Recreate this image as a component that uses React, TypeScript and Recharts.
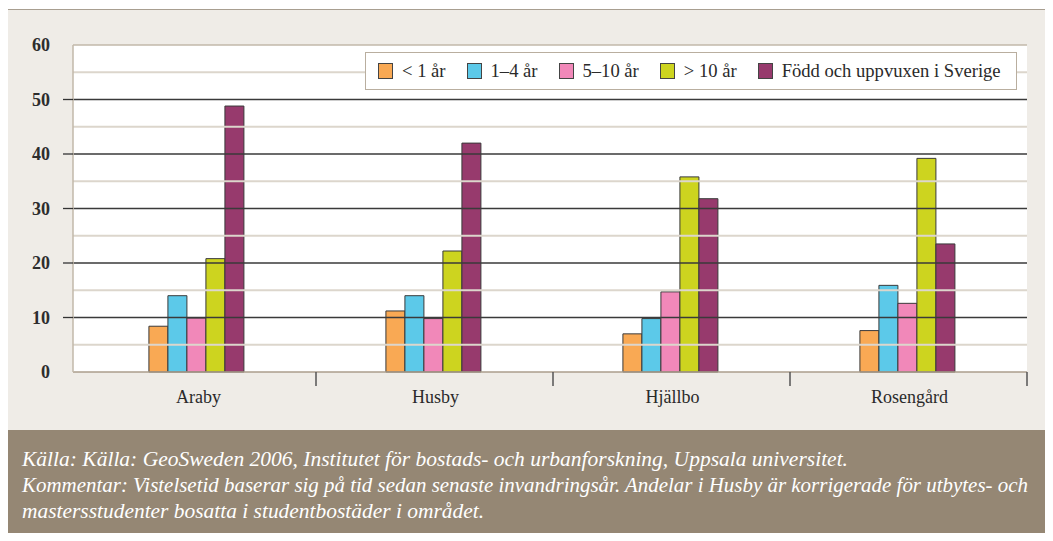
import React from "react";
import {
  BarChart,
  Bar,
  XAxis,
  YAxis,
  Legend,
  ReferenceLine,
  CartesianGrid,
} from "recharts";

const categories = ["Araby", "Husby", "Hjällbo", "Rosengård"];
const under1 = [8.4, 11.2, 7.0, 7.6];
const y1to4 = [14.0, 14.0, 9.8, 15.9];
const y5to10 = [9.9, 9.8, 14.7, 12.6];
const over10 = [20.8, 22.2, 35.8, 39.2];
const bornInSweden = [48.8, 42.0, 31.8, 23.5];

const seriesNames = ["< 1 år", "1–4 år", "5–10 år", "> 10 år", "Född och uppvuxen i Sverige"];
const seriesKeys = ["under1", "y1to4", "y5to10", "over10", "born"];
const seriesColors = ["#F9A954", "#5CC9E9", "#F188B9", "#CDD41F", "#973A6D"];

const yTicks = [0, 10, 20, 30, 40, 50, 60];
const majorGrid = [10, 20, 30, 40, 50];
const minorGrid = [5, 15, 25, 35, 45, 55];

const footerLines = [
  "Källa: Källa: GeoSweden 2006, Institutet för bostads- och urbanforskning, Uppsala universitet.",
  "Kommentar: Vistelsetid baserar sig på tid sedan senaste invandringsår. Andelar i Husby är korrigerade för utbytes- och",
  "mastersstudenter bosatta i studentbostäder i området.",
];
const footerWidths = [826, 1006, 462];

const data = categories.map((c, i) => ({
  name: c,
  under1: under1[i],
  y1to4: y1to4[i],
  y5to10: y5to10[i],
  over10: over10[i],
  born: bornInSweden[i],
}));

const SERIF = "'Liberation Serif', 'Times New Roman', serif";

function XTick(props: any) {
  const { x, y, payload, index } = props;
  const half = payload && payload.offset ? payload.offset : 118.5;
  return (
    <g>
      {index > 0 && (
        <line x1={x - half} x2={x - half} y1={y} y2={y + 14} stroke="#555" strokeWidth={1.5} />
      )}
      {index === categories.length - 1 && (
        <line x1={x + half} x2={x + half} y1={y} y2={y + 14} stroke="#555" strokeWidth={1.5} />
      )}
      <text x={x + 1} y={y + 31} textAnchor="middle" fontFamily={SERIF} fontSize={18} fill="#2a2a2a">
        {payload.value}
      </text>
    </g>
  );
}

function YTick(props: any) {
  const { x, y, payload } = props;
  const v = payload.value;
  return (
    <g>
      {v > 0 && v < 60 && <line x1={x - 10} x2={x} y1={y} y2={y} stroke="#333" strokeWidth={1.3} />}
      <text x={x - 23} y={y} dy={6} textAnchor="end" fontFamily={SERIF} fontWeight={700} fontSize={18} fill="#2d2d2d">
        {v}
      </text>
    </g>
  );
}

function LegendBox() {
  return (
    <div
      style={{
        boxSizing: "border-box",
        width: "100%",
        height: "100%",
        background: "#fff",
        border: "1.5px solid #b9ae9f",
        display: "flex",
        alignItems: "center",
        paddingLeft: 12,
        whiteSpace: "nowrap",
        overflow: "hidden",
        fontFamily: SERIF,
        fontSize: 18.6,
        color: "#2a2a2a",
      }}
    >
      {seriesNames.map((n, i) => (
        <span
          key={n}
          style={{ display: "inline-flex", alignItems: "center", marginRight: 21, flexShrink: 0, whiteSpace: "nowrap" }}
        >
          <span
            style={{
              width: 15,
              height: 16,
              flexShrink: 0,
              boxSizing: "border-box",
              background: seriesColors[i],
              border: "1px solid #444",
              marginRight: 9,
            }}
          />
          {n}
        </span>
      ))}
    </div>
  );
}

export default function App() {
  return (
    <div style={{ position: "relative", width: 1053, height: 541, margin: -8, background: "#fff", overflow: "hidden" }}>
      <div
        style={{
          position: "absolute",
          left: 7,
          top: 9,
          width: 1046,
          height: 421,
          boxSizing: "border-box",
          background: "#EFECE7",
          borderLeft: "1.5px solid #8f8578",
          borderTop: "1.5px solid #a89e90",
        }}
      />
      <div style={{ position: "absolute", left: 0, top: 0 }}>
        <BarChart
          width={1053}
          height={430}
          data={data}
          margin={{ top: 45, right: 26, bottom: 28, left: 13 }}
          barCategoryGap="29.5%"
          barGap={0}
        >
          <CartesianGrid horizontal={false} vertical={false} fill="#fff" />
          {minorGrid.map((v) => (
            <ReferenceLine key={"m" + v} y={v} stroke="#dcd6cc" strokeWidth={2} />
          ))}
          {majorGrid.map((v) => (
            <ReferenceLine key={"M" + v} y={v} stroke="#3a3a3a" strokeWidth={1.3} />
          ))}
          <ReferenceLine y={60} stroke="#c2b8aa" strokeWidth={1.5} />
          <XAxis
            dataKey="name"
            height={30}
            padding={{ left: 6, right: 0 }}
            tickLine={false}
            tickSize={0}
            tickMargin={0}
            axisLine={{ stroke: "#ab9e8c", strokeWidth: 1.5 }}
            tick={<XTick />}
            interval={0}
          />
          <YAxis
            width={60}
            domain={[0, 60]}
            ticks={yTicks}
            tickLine={false}
            tickSize={0}
            tickMargin={0}
            axisLine={{ stroke: "#c2b8aa", strokeWidth: 1.5 }}
            tick={<YTick />}
            interval={0}
          />
          <YAxis
            yAxisId="right"
            orientation="right"
            width={0}
            domain={[0, 60]}
            tick={false}
            tickLine={false}
            axisLine={{ stroke: "#c2b8aa", strokeWidth: 1.5 }}
          />
          <Legend
            layout="vertical"
            verticalAlign="middle"
            align="center"
            content={<LegendBox />}
            wrapperStyle={{ top: 52, left: 365, width: 652, height: 38 }}
          />
          {seriesKeys.map((k, i) => (
            <Bar
              key={k}
              dataKey={k}
              name={seriesNames[i]}
              fill={seriesColors[i]}
              stroke="#3a3a3a"
              strokeWidth={1}
              isAnimationActive={false}
            />
          ))}
        </BarChart>
      </div>
      <div
        style={{
          position: "absolute",
          left: 7,
          top: 430,
          width: 1046,
          height: 111,
          background: "#958774",
        }}
      >
        <svg width={1046} height={111}>
          {footerLines.map((t, i) => (
            <text
              key={i}
              x={15}
              y={36 + i * 26}
              textLength={footerWidths[i]}
              lengthAdjust="spacingAndGlyphs"
              fontFamily={SERIF}
              fontStyle="italic"
              fontSize={20}
              fill="#fff"
            >
              {t}
            </text>
          ))}
        </svg>
      </div>
    </div>
  );
}
